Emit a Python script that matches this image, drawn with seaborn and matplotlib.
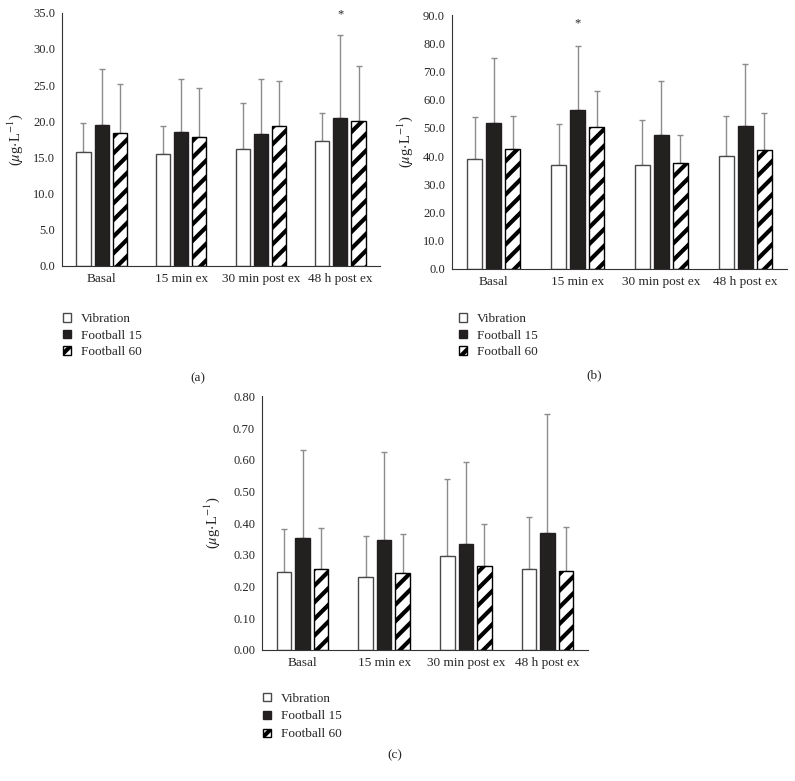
import numpy as np
import pandas as pd
import seaborn as sns
import matplotlib.pyplot as plt
from matplotlib.ticker import FormatStrFormatter


# -----------------------------
# DATA
# -----------------------------
times = ["Basal", "15 min ex", "30 min post ex", "48 h post ex"]
groups = ["Vibration", "Football 15", "Football 60"]

# panel (a)
a_vib = [15.75, 15.5, 16.2, 17.3]
a_f15 = [19.5, 18.5, 18.2, 20.5]
a_f60 = [18.4, 17.8, 19.3, 20.1]
a_vib_sd = [3.95, 3.9, 6.3, 3.8]
a_f15_sd = [7.7, 7.4, 7.6, 11.4]
a_f60_sd = [6.7, 6.8, 6.2, 7.6]

# panel (b)
b_vib = [38.8, 36.7, 36.9, 39.9]
b_f15 = [51.6, 56.5, 47.4, 50.8]
b_f60 = [42.5, 50.3, 37.4, 42.2]
b_vib_sd = [15.0, 14.6, 16.0, 14.3]
b_f15_sd = [23.1, 22.5, 19.3, 21.8]
b_f60_sd = [11.9, 12.8, 10.2, 13.0]

# panel (c)
c_vib = [0.246, 0.229, 0.297, 0.256]
c_f15 = [0.354, 0.348, 0.335, 0.368]
c_f60 = [0.254, 0.242, 0.266, 0.249]
c_vib_sd = [0.135, 0.130, 0.242, 0.163]
c_f15_sd = [0.276, 0.277, 0.259, 0.376]
c_f60_sd = [0.130, 0.125, 0.132, 0.139]

# significance marks: (time index, y of the star)
a_star = (3, 34.8)
b_star = (1, 87.2)


# -----------------------------
# STYLE
# -----------------------------
sns.set_style("white")
plt.rcParams["font.family"] = ["Liberation Serif", "DejaVu Serif"]
plt.rcParams["mathtext.fontset"] = "stix"
plt.rcParams["hatch.linewidth"] = 3.0

W, H = 795, 781
fig = plt.figure(figsize=(W / 100, H / 100), dpi=100)


def rect(x0, y_top, x1, y_bot):
    # pixel box -> figure fraction
    return [x0 / W, 1 - y_bot / H, (x1 - x0) / W, (y_bot - y_top) / H]


def draw_panel(box, vib, f15, f60, sds, ymax, step, fmt, ylab_x,
               leg_xy, cap_xy, cap, star=None, rowgap=0.35):
    ax = fig.add_axes(rect(*box))
    df = pd.DataFrame({
        "time": times * 3,
        "group": np.repeat(groups, len(times)),
        "value": vib + f15 + f60,
    })
    sns.barplot(data=df, x="time", y="value", hue="group",
                palette=["white", "#231f20", "white"],
                width=0.68, gap=0.22, errorbar=None, legend=False,
                linewidth=1.0, ax=ax)
    bars = list(ax.containers)

    edges = ["#4a4a4a", "#231f20", "black"]
    for cont, sd, ec, i in zip(bars, sds, edges, range(3)):
        xs, ys = [], []
        for p in cont.patches:
            p.set_edgecolor(ec)
            p.set_linewidth(1.0)
            if i == 2:
                p.set_hatch("//")
            xs.append(p.get_x() + p.get_width() / 2)
            ys.append(p.get_height())
        ax.errorbar(xs, ys, yerr=[np.zeros(len(sd)), sd], fmt="none",
                    ecolor="#8c8c8c", elinewidth=1.0, capsize=2.5,
                    capthick=1.0, zorder=0.5)

    if star is not None:
        p = bars[1].patches[star[0]]
        ax.text(p.get_x() + p.get_width() / 2, star[1], "*",
                ha="center", va="center", fontsize=9, clip_on=False)

    ax.set_ylim(0, ymax)
    ax.set_yticks(np.arange(0, ymax + step / 2, step))
    ax.yaxis.set_major_formatter(FormatStrFormatter(fmt))
    ax.set_xlabel("")
    ax.set_ylabel(r"($\mu$g$\cdot$L$^{-1}$)", fontsize=10.5)
    ax.yaxis.set_label_coords(ylab_x, 0.5)
    sns.despine(ax=ax)
    for s in ["left", "bottom"]:
        ax.spines[s].set_color("#333333")
        ax.spines[s].set_linewidth(0.8)
    ax.tick_params(axis="y", direction="out", length=3, width=0.8,
                   color="#333333", labelsize=9, pad=2)
    ax.tick_params(axis="x", length=0, labelsize=9.5, pad=5)

    handles = [c.patches[0] for c in bars]
    fig.legend(handles, groups, loc="upper left",
               bbox_to_anchor=(leg_xy[0] / W, 1 - leg_xy[1] / H),
               frameon=False, fontsize=9.5, borderpad=0, borderaxespad=0,
               handlelength=0.6, handleheight=0.6, handletextpad=0.75,
               labelspacing=rowgap)
    fig.text(cap_xy[0] / W, 1 - cap_xy[1] / H, cap, ha="center",
             va="center", fontsize=9.5)
    return ax


draw_panel((62, 12.7, 380, 266), a_vib, a_f15, a_f60,
           [a_vib_sd, a_f15_sd, a_f60_sd], 35, 5, "%.1f", -0.116,
           (63, 313), (198, 378), "(a)", star=a_star)

draw_panel((452, 15.3, 787, 268.7), b_vib, b_f15, b_f60,
           [b_vib_sd, b_f15_sd, b_f60_sd], 90, 10, "%.1f", -0.11,
           (459, 313), (594, 375), "(b)", star=b_star)

draw_panel((262, 396.3, 588, 650), c_vib, c_f15, c_f60,
           [c_vib_sd, c_f15_sd, c_f60_sd], 0.8, 0.1, "%.2f", -0.123,
           (263, 692.5), (395, 755), "(c)", rowgap=0.45)

fig.savefig("out.png", dpi=100)
